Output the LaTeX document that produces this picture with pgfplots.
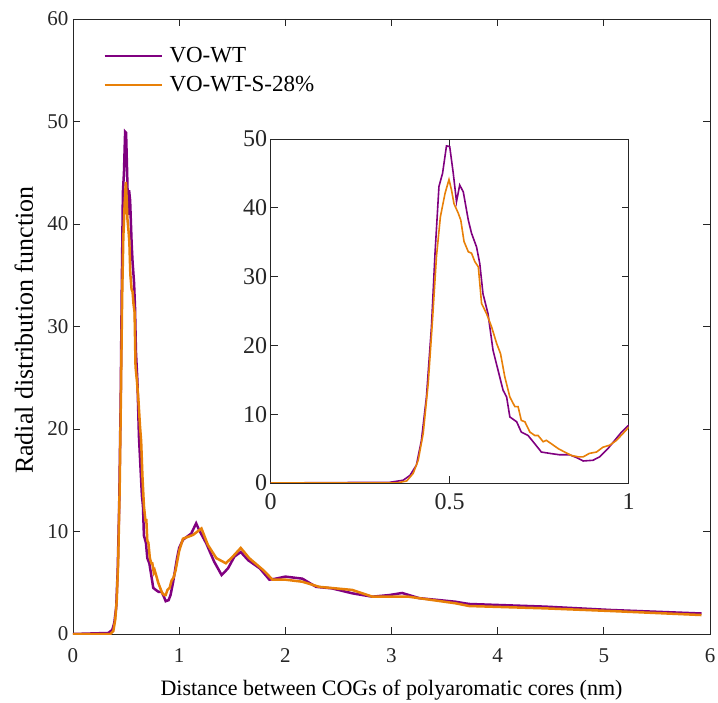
\documentclass[border=0pt]{standalone}
\usepackage{fontspec}
\setmainfont{Liberation Serif}
\usepackage{pgfplots}
\usepackage{pgfplotstable}
\pgfplotsset{compat=1.18}

\definecolor{vopurple}{RGB}{128,0,128}
\definecolor{voorange}{RGB}{232,128,8}
\definecolor{axgray}{rgb}{0.15,0.15,0.15}

% VO-WT
\pgfplotstableread{
x y
0 0
0.333 0.1
0.370 0.4
0.389 1.1
0.407 2.6
0.421 6.2
0.435 12.5
0.449 22.7
0.459 33.4
0.470 43.1
0.480 45.0
0.491 49.0
0.500 48.9
0.510 45.0
0.519 40.9
0.528 43.3
0.538 42.3
0.552 38.2
0.561 36.3
0.575 34.3
0.584 31.9
0.593 27.5
0.607 24.6
0.621 19.3
0.635 16.4
0.649 13.5
0.659 12.5
0.668 9.6
0.687 8.9
0.700 7.4
0.719 6.9
0.733 6.0
0.756 4.5
0.780 4.3
0.807 4.1
0.835 4.1
0.854 3.7
0.873 3.2
0.900 3.3
0.919 3.8
0.942 5.0
0.961 6.2
0.980 7.4
1.000 8.4
1.036 9.2
1.114 9.8
1.160 10.8
1.190 10.1
1.255 8.85
1.330 7.05
1.400 5.75
1.460 6.4
1.520 7.55
1.580 8.0
1.650 7.2
1.760 6.4
1.850 5.3
1.910 5.4
2.000 5.6
2.160 5.4
2.290 4.6
2.440 4.45
2.630 3.97
2.820 3.64
2.980 3.8
3.100 4.0
3.260 3.5
3.600 3.15
3.730 2.93
4.450 2.67
5.070 2.34
5.920 2.0
}\tblwt

% VO-WT-S-28%
\pgfplotstableread{
x y
0 0
0.352 0
0.380 0.3
0.398 1.4
0.412 3.3
0.426 7.2
0.440 14.5
0.452 23.7
0.463 32.9
0.474 38.7
0.487 42.1
0.498 44.1
0.505 42.6
0.512 40.6
0.524 39.2
0.531 38.2
0.540 35.1
0.552 33.6
0.561 33.4
0.570 32.2
0.580 31.4
0.589 26.1
0.603 24.6
0.617 22.7
0.631 20.3
0.642 18.8
0.654 15.4
0.668 12.5
0.682 11.1
0.691 11.1
0.700 9.1
0.710 8.9
0.724 7.4
0.738 6.9
0.747 6.9
0.761 6.0
0.770 6.2
0.784 5.7
0.803 5.0
0.821 4.5
0.840 4.0
0.859 3.8
0.873 3.8
0.890 4.3
0.910 4.5
0.928 5.2
0.947 5.5
0.966 6.2
0.984 7.2
1.000 8.1
1.036 9.3
1.130 9.66
1.210 10.3
1.270 8.7
1.350 7.4
1.440 6.9
1.505 7.55
1.580 8.4
1.660 7.4
1.790 6.25
1.880 5.3
2.000 5.3
2.160 5.1
2.320 4.6
2.630 4.3
2.820 3.64
3.160 3.64
3.600 3.0
3.730 2.73
4.450 2.5
5.070 2.24
5.920 1.85
}\tblwts

\pgfplotsset{
  matstyle/.style={
    scale only axis,
    axis line style={axgray, line width=0.9pt},
    tick style={axgray, line width=0.8pt},
    major tick length=7pt,
    tick align=inside,
    ticklabel style={text=axgray},
    /pgf/number format/assume math mode=true,
  }
}

\begin{document}
\begin{tikzpicture}
\begin{axis}[
    matstyle,
    name=main,
    at={(0,0)}, anchor=south west,
    width=637pt, height=615pt,
    xmin=0, xmax=6, ymin=0, ymax=60,
    xtick={0,1,...,6}, ytick={0,10,...,60},
    ticklabel style={font=\fontsize{21}{24}\selectfont},
    xticklabel style={yshift=-11pt},
    yticklabel style={xshift=-1pt},
    xlabel={Distance between COGs of polyaromatic cores (nm)},
    ylabel={Radial distribution function},
    xlabel style={font=\fontsize{22}{26}\selectfont,
        at={(axis description cs:0.5,-0.0992)}, anchor=base},
    ylabel style={font=\fontsize{26}{30}\selectfont,
        at={(axis description cs:-0.077,0.494)}, anchor=center},
    legend style={draw=none, fill=none, at={(axis description cs:0.046,0.959)}, anchor=north west,
        font=\fontsize{23}{27}\selectfont, row sep=8pt, inner sep=1pt,
        /tikz/every odd column/.append style={column sep=5pt}},
    legend cell align=left,
    legend image code/.code={\draw[#1, line width=2pt] (0pt,0pt) -- (57pt,0pt);},
]
\addplot[vopurple, line width=2.5pt] table[x=x, y=y] {\tblwt};
\addplot[voorange, line width=2.5pt] table[x=x, y=y] {\tblwts};
\legend{VO-WT, VO-WT-S-28\%}
\end{axis}

\begin{axis}[
    matstyle,
    at={(197.7pt,495pt)}, anchor=north west,
    width=358pt, height=344pt,
    xmin=0, xmax=1, ymin=0, ymax=50,
    xtick={0,0.5,1}, ytick={0,10,...,50},
    xticklabels={0,0.5,1},
    ticklabel style={font=\fontsize{24}{28}\selectfont},
    xticklabel style={yshift=-7pt},
    axis background/.style={fill=white},
]
\addplot[vopurple, line width=1.6pt] table[x=x, y=y] {\tblwt};
\addplot[voorange, line width=1.6pt] table[x=x, y=y] {\tblwts};
\end{axis}

\pgfresetboundingbox
\path (-73pt,-68pt) rectangle (645pt,634pt);
\end{tikzpicture}
\end{document}
